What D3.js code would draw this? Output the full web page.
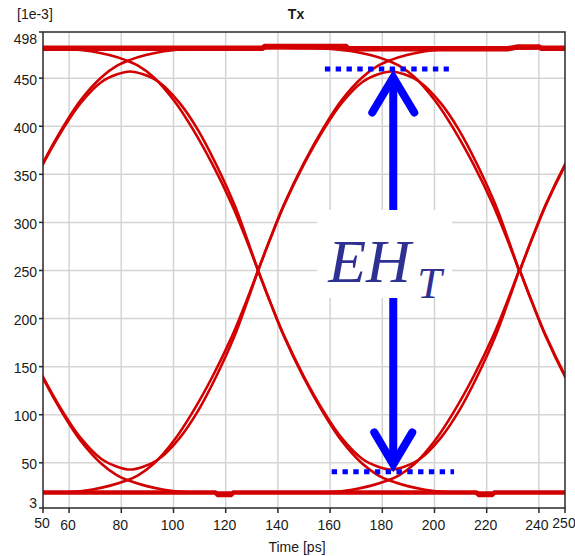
<!DOCTYPE html>
<html>
<head>
<meta charset="utf-8">
<script src="https://cdn.jsdelivr.net/npm/d3@7"></script>
<style>
  body { margin: 0; background: #fff; }
  svg { display: block; }
  .tick-label { font-family: "Liberation Sans", Arial, sans-serif; font-size: 14px; fill: #1a1a1a; }
</style>
</head>
<body>
<svg id="chart" width="575" height="556"></svg>
<script>
const WIDTH = 575;
const HEIGHT = 556;
const MARGIN = { top: 32, right: 10, bottom: 48, left: 43 };

// axis ticks
const xTicks = [50, 60, 80, 100, 120, 140, 160, 180, 200, 220, 240, 250];
const yTicks = [3, 50, 100, 150, 200, 250, 300, 350, 400, 450, 498];
const xGrid = [60, 80, 100, 120, 140, 160, 180, 200, 220, 240];
const yGrid = [50, 100, 150, 200, 250, 300, 350, 400, 450];

// crossing times (ps) where each unit interval starts
const crossings = [32.4, 132.4, 232.7];

// trace shapes over one unit interval: [ps after crossing, value 1e-3]
const hump010 = [[0,250],[5,285],[10,318],[17.5,360],[25,396],[32,424],[40,446],[46,454],[51,457],[56,454],[62,446],[70,424],[77,396],[84,360],[91,318],[95.5,285],[100,250]];
const rise011 = [[0,250],[5,285.5],[10,319],[17.5,361.5],[25,398],[32,427],[40,451],[46,463],[51,469],[57,474],[64,478],[72,480.5],[85,481],[100,481]];
const fall110 = [[0,481],[15,481],[28,480.5],[36,478],[43,474],[49,469],[54,463],[60,451],[68,426],[75,397],[82.5,360.5],[90,318.5],[95,285.5],[100,250]];
const valley101 = [[0,250],[5,215],[10,182],[17.5,140],[25,104],[32,76],[40,54],[46,46],[51,43],[56,46],[62,54],[70,76],[77,104],[84,140],[91,182],[95.5,215],[100,250]];
const fall100 = [[0,250],[5,214.5],[10,181],[17.5,138.5],[25,102],[32,73],[40,49],[46,37],[51,31],[57,26],[64,22],[72,19.5],[85,19],[100,19]];
const rise001 = [[0,19],[15,19],[28,19.5],[36,22],[43,26],[49,31],[54,37],[60,49],[68,74],[75,103],[82.5,139.5],[90,181.5],[95,214.5],[100,250]];
const shapes = [hump010, rise011, fall110, valley101, fall100, rise001];

// steady rails (absolute ps, value)
const topRail = [[50,481],[134,481],[135,483],[166,483],[167,480.5],[228,480.5],[232,482.5],[240,482.5],[241,481],[250,481]];
const bottomRail = [[50,19],[116,19],[117,16.5],[122,16.5],[123,19],[216,19],[217,16.5],[222,16.5],[223,19],[250,19]];

// eye height annotation
const ehTime = 184.2;
const ehTop = 460;
const ehBottom = 39;
const ehDotTop = { v: 459.5, t0: 158.0, t1: 205.5 };
const ehDotBottom = { v: 40.7, t0: 160.6, t1: 207.5 };

const RED = "#d20000";
const BLUE = "#0000ff";

const svg = d3.select("#chart");

const x = d3.scaleLinear().domain([50, 250]).range([MARGIN.left, WIDTH - MARGIN.right]);
const y = d3.scaleLinear().domain([3, 498]).range([HEIGHT - MARGIN.bottom, MARGIN.top]);

svg.append("defs").append("clipPath").attr("id", "plotClip")
  .append("rect")
  .attr("x", x(50)).attr("y", y(498))
  .attr("width", x(250) - x(50)).attr("height", y(3) - y(498));

// grid
const grid = svg.append("g").attr("class", "grid");
grid.selectAll("line.gx").data(xGrid).join("line")
  .attr("class", "gx")
  .attr("x1", d => x(d)).attr("x2", d => x(d))
  .attr("y1", y(498)).attr("y2", y(3))
  .attr("stroke", "#d4d4d4").attr("stroke-width", 1.5);
grid.selectAll("line.gy").data(yGrid).join("line")
  .attr("class", "gy")
  .attr("y1", d => y(d)).attr("y2", d => y(d))
  .attr("x1", x(50)).attr("x2", x(250))
  .attr("stroke", "#d4d4d4").attr("stroke-width", 1.5);

// traces
const plot = svg.append("g").attr("clip-path", "url(#plotClip)");

const shapeLine = (t0) => d3.line()
  .x(d => x(t0 + d[0]))
  .y(d => y(d[1]))
  .curve(d3.curveCatmullRom.alpha(0.5));

const segs = [];
crossings.forEach(c => shapes.forEach(s => segs.push({ c: c, pts: s })));

plot.selectAll("path.edge").data(segs).join("path")
  .attr("class", "edge")
  .attr("d", d => shapeLine(d.c)(d.pts))
  .attr("fill", "none")
  .attr("stroke", RED)
  .attr("stroke-width", 2.6);

const railLine = d3.line().x(d => x(d[0])).y(d => y(d[1]));
plot.append("path").datum(topRail)
  .attr("d", railLine)
  .attr("fill", "none").attr("stroke", RED).attr("stroke-width", 5.5);
plot.append("path").datum(bottomRail)
  .attr("d", railLine)
  .attr("fill", "none").attr("stroke", RED).attr("stroke-width", 4.5);

// eye height annotation
const ann = svg.append("g");
[ehDotTop, ehDotBottom].forEach(dl => {
  ann.append("line")
    .attr("x1", x(dl.t0)).attr("x2", x(dl.t1))
    .attr("y1", y(dl.v)).attr("y2", y(dl.v))
    .attr("stroke", BLUE).attr("stroke-width", 5)
    .attr("stroke-dasharray", "5.4,5.4");
});

const ax = x(ehTime);
const yTopTip = y(ehTop);
const yBotTip = y(ehBottom);
ann.append("line")
  .attr("x1", ax).attr("x2", ax)
  .attr("y1", yTopTip + 8).attr("y2", yBotTip - 8)
  .attr("stroke", BLUE).attr("stroke-width", 8);
// arrow heads (vertex pushed in so the miter point lands on the tip)
ann.append("path")
  .attr("d", `M${ax - 21},${yTopTip + 44} L${ax},${yTopTip + 9} L${ax + 21},${yTopTip + 44}`)
  .attr("fill", "none").attr("stroke", BLUE).attr("stroke-width", 8)
  .attr("stroke-linecap", "round").attr("stroke-linejoin", "miter");
ann.append("path")
  .attr("d", `M${ax - 19},${yBotTip - 41} L${ax},${yBotTip - 9} L${ax + 19},${yBotTip - 41}`)
  .attr("fill", "none").attr("stroke", BLUE).attr("stroke-width", 8)
  .attr("stroke-linecap", "round").attr("stroke-linejoin", "miter");

// label box covers grid and shaft
ann.append("rect")
  .attr("x", ax - 76).attr("y", 210)
  .attr("width", 135).attr("height", 88)
  .attr("fill", "#fff");
ann.append("text")
  .attr("x", ax - 65).attr("y", 282)
  .attr("font-family", "'Liberation Serif', 'Times New Roman', serif")
  .attr("font-style", "italic")
  .attr("font-size", 62)
  .attr("fill", "#2e3192")
  .text("EH");
ann.append("text")
  .attr("x", ax + 24).attr("y", 298)
  .attr("font-family", "'Liberation Serif', 'Times New Roman', serif")
  .attr("font-style", "italic")
  .attr("font-size", 44)
  .attr("fill", "#2e3192")
  .text("T");

// frame
svg.append("rect")
  .attr("x", x(50)).attr("y", y(498))
  .attr("width", x(250) - x(50)).attr("height", y(3) - y(498))
  .attr("fill", "none").attr("stroke", "#2a2a2a").attr("stroke-width", 1.5);

// y axis ticks + labels
const yAx = svg.append("g");
yAx.selectAll("line").data(yTicks).join("line")
  .attr("x1", x(50) - 4).attr("x2", x(50))
  .attr("y1", d => y(d)).attr("y2", d => y(d))
  .attr("stroke", "#2a2a2a").attr("stroke-width", 1.5);
yAx.selectAll("text").data(yTicks).join("text")
  .attr("class", "tick-label")
  .attr("x", x(50) - 6)
  .attr("y", (d, i) => {
    if (i === 0) return y(d) - 0.5;
    if (i === yTicks.length - 1) return y(d) + 11.5;
    return y(d) + 6.5;
  })
  .attr("text-anchor", "end")
  .text(d => d);

// x axis ticks + labels
const xAx = svg.append("g");
xAx.selectAll("line").data(xTicks).join("line")
  .attr("x1", d => x(d)).attr("x2", d => x(d))
  .attr("y1", y(3)).attr("y2", y(3) + 5)
  .attr("stroke", "#2a2a2a").attr("stroke-width", 1.5);
xAx.selectAll("text").data(xTicks).join("text")
  .attr("class", "tick-label")
  .attr("x", (d, i) => i === xTicks.length - 2 ? x(d) - 2 : x(d) - 1)
  .attr("y", (d, i) => (i === 0 || i === xTicks.length - 1) ? 528 : 530)
  .attr("text-anchor", "middle")
  .text(d => d);

// titles
svg.append("text")
  .attr("class", "tick-label")
  .attr("x", (x(50) + x(250)) / 2 - 8).attr("y", 19)
  .attr("text-anchor", "middle")
  .attr("font-weight", "bold")
  .text("Tx");
svg.append("text")
  .attr("class", "tick-label")
  .attr("x", 17).attr("y", 19)
  .text("[1e-3]");
svg.append("text")
  .attr("class", "tick-label")
  .attr("x", 297).attr("y", 552)
  .attr("text-anchor", "middle")
  .text("Time [ps]");
</script>
</body>
</html>
